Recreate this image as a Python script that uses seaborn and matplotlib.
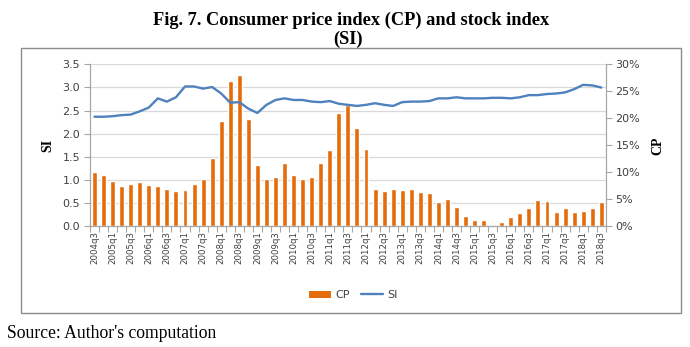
import numpy as np
import pandas as pd
import matplotlib
matplotlib.use("Agg")
import matplotlib.pyplot as plt
from matplotlib.ticker import PercentFormatter, MultipleLocator, FixedLocator, FormatStrFormatter
from matplotlib.patches import Rectangle, Patch
from matplotlib.lines import Line2D
import seaborn as sns

# Quarterly series, 2004q3 - 2018q3
quarters = [f"{y}q{q}" for y in range(2004, 2019) for q in range(1, 5)][2:59]

cp = [1.18, 1.12, 0.98, 0.88, 0.91, 0.97, 0.89, 0.88, 0.80, 0.77,
      0.79, 0.91, 1.03, 1.48, 2.27, 3.14, 3.26, 2.32, 1.33, 1.02,
      1.06, 1.38, 1.11, 1.02, 1.06, 1.38, 1.64, 2.44, 2.63, 2.13,
      1.67, 0.81, 0.77, 0.81, 0.78, 0.80, 0.75, 0.72, 0.53, 0.60,
      0.43, 0.23, 0.13, 0.14, 0.01, 0.09, 0.20, 0.30, 0.40, 0.57,
      0.55, 0.31, 0.40, 0.31, 0.34, 0.40, 0.52]

si = [0.203, 0.203, 0.204, 0.206, 0.207, 0.213, 0.220, 0.237, 0.231, 0.239,
      0.259, 0.259, 0.255, 0.258, 0.246, 0.229, 0.230, 0.218, 0.210, 0.225,
      0.234, 0.237, 0.234, 0.234, 0.231, 0.230, 0.232, 0.227, 0.225, 0.223,
      0.225, 0.228, 0.225, 0.223, 0.230, 0.231, 0.231, 0.232, 0.237, 0.237,
      0.239, 0.237, 0.237, 0.237, 0.238, 0.238, 0.237, 0.239, 0.243, 0.243,
      0.245, 0.246, 0.248, 0.254, 0.262, 0.261, 0.257]

df = pd.DataFrame({"quarter": quarters, "CP": cp, "SI": si,
                   "pos": np.arange(len(quarters))})

ORANGE = "#E46C0A"
BLUE = "#4F81BD"
AXIS_GREY = "#A6A6A6"
GRID_GREY = "#D9D9D9"
TEXT_GREY = "#404040"

sns.set_theme(style="white")
plt.rcParams["font.family"] = ["DejaVu Sans"]

fig = plt.figure(figsize=(6.9, 3.47), dpi=100)
ax = fig.add_axes([0.1304, 0.3473, 0.7476, 0.4674])
ax2 = ax.twinx()

sns.barplot(data=df, x="quarter", y="CP", color=ORANGE, width=0.55,
            saturation=1, ax=ax, zorder=3)
sns.lineplot(data=df, x="pos", y="SI", color=BLUE, linewidth=1.7,
             ax=ax2, zorder=4)

n = len(quarters)
ax.set_xlim(-0.5, n - 0.5)
ax.set_ylim(0, 3.5)
ax2.set_ylim(0, 0.30)
ax.yaxis.set_major_locator(MultipleLocator(0.5))
ax.yaxis.set_major_formatter(FormatStrFormatter("%.1f"))
ax2.yaxis.set_major_locator(MultipleLocator(0.05))
ax2.yaxis.set_major_formatter(PercentFormatter(1.0, decimals=0))

ax.grid(axis="y", color=GRID_GREY, linewidth=0.9, zorder=0)
ax.set_axisbelow(True)

ax.set_xticks(np.arange(0, n, 2))
ax.set_xticklabels(quarters[::2], rotation=90, fontsize=6.2, color=TEXT_GREY)
ax.xaxis.set_minor_locator(FixedLocator(np.arange(-0.5, n, 1)))
ax.tick_params(axis="x", which="major", length=0, pad=3)
ax.tick_params(axis="x", which="minor", length=4, width=0.8,
               color=AXIS_GREY, direction="out", bottom=True)
ax.tick_params(axis="y", length=4, width=0.8, color=AXIS_GREY,
               labelsize=8, labelcolor=TEXT_GREY, left=True, pad=3)
ax2.tick_params(axis="y", length=4, width=0.8, color=AXIS_GREY,
                labelsize=8, labelcolor=TEXT_GREY, right=True, pad=3)

for a in (ax, ax2):
    a.spines["top"].set_visible(False)
    for s in ("left", "right", "bottom"):
        a.spines[s].set_color(AXIS_GREY)
        a.spines[s].set_linewidth(0.8)

ax.set_xlabel("")
ax.set_ylabel("SI", family="Liberation Serif", fontweight="bold",
              fontsize=10, color="black", labelpad=6)
ax2.set_ylabel("CP", family="Liberation Serif", fontweight="bold",
               fontsize=10, color="black", rotation=90, labelpad=8)

handles = [Patch(facecolor=ORANGE, edgecolor="none", label="CP"),
           Line2D([0], [0], color=BLUE, linewidth=1.7, label="SI")]
fig.legend(handles=handles, loc="center", bbox_to_anchor=(0.512, 1 - 295 / 347),
           ncol=2, frameon=False, fontsize=8, handlelength=2.0,
           handleheight=0.6, columnspacing=1.0, handletextpad=0.4,
           labelcolor=TEXT_GREY)

# Chart frame
fig.patches.append(Rectangle((21 / 690, 1 - 313 / 347), 660 / 690, 265 / 347,
                             transform=fig.transFigure, fill=False,
                             edgecolor="#8C8C8C", linewidth=1.0))

fig.text(351 / 690, 1 - 20 / 347, "Fig. 7. Consumer price index (CP) and stock index",
         ha="center", va="center", family="Liberation Serif",
         fontweight="bold", fontsize=13.2, color="black")
fig.text(348 / 690, 1 - 39 / 347, "(SI)", ha="center", va="center",
         family="Liberation Serif", fontweight="bold", fontsize=13.2, color="black")
fig.text(7 / 690, 1 - 333 / 347, "Source: Author's computation",
         ha="left", va="center", family="Liberation Serif", fontsize=12.7,
         color="black")

fig.savefig("out.png", dpi=100, facecolor="white")
